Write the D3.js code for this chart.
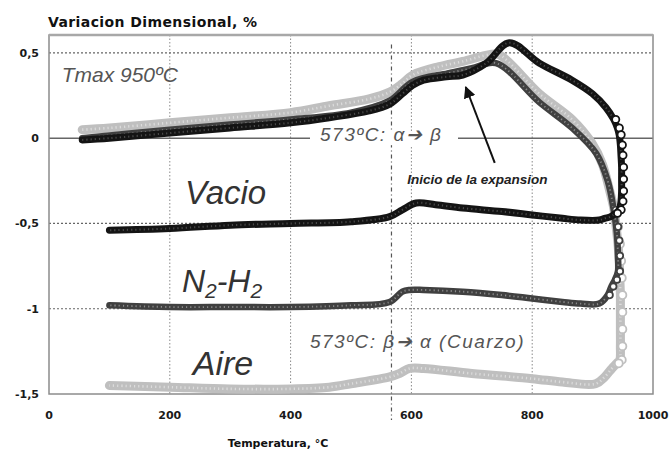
<!DOCTYPE html>
<html>
<head>
<meta charset="utf-8">
<script src="https://cdn.jsdelivr.net/npm/d3@7"></script>
<style>
  html, body { margin: 0; padding: 0; background: #fff; }
  svg { display: block; }
  .tick-label { font-family: "DejaVu Sans", sans-serif; font-weight: bold; font-size: 11px; fill: #1a1a1a; }
  .axis-title { font-family: "DejaVu Sans", sans-serif; font-weight: bold; fill: #111; }
  .note { font-family: "Liberation Sans", Arial, sans-serif; font-style: italic; }
</style>
</head>
<body>
<div id="chart"></div>
<script>
// Dilatometry curves (Temperatura °C, Variacion %), heating then cooling
const vacio = [
  [55, -0.01], [100, 0.0], [200, 0.03], [300, 0.06], [400, 0.09], [464, 0.12],
  [530, 0.16], [564, 0.2], [585, 0.26], [602, 0.31], [620, 0.34], [658, 0.36],
  [685, 0.37], [724, 0.44], [762, 0.56], [812, 0.44], [866, 0.34], [900, 0.26],
  [922, 0.18], [935, 0.11], [941, 0.06], [944, 0.02], [946, -0.04], [947, -0.1],
  [948, -0.17], [948, -0.24], [948, -0.31], [947, -0.37], [944, -0.42], [938, -0.44],
  [930, -0.46], [920, -0.47], [911, -0.48], [880, -0.48], [850, -0.47],
  [800, -0.45], [750, -0.43], [685, -0.41], [640, -0.39], [608, -0.38], [585, -0.42],
  [564, -0.46], [500, -0.49], [400, -0.5], [300, -0.51], [200, -0.53], [100, -0.54]
];

const n2h2 = [
  [55, 0.0], [200, 0.05], [300, 0.08], [400, 0.11], [500, 0.15], [564, 0.22],
  [602, 0.33], [660, 0.38], [700, 0.41], [740, 0.44], [812, 0.21], [866, 0.06],
  [906, -0.09], [925, -0.25], [935, -0.42], [939, -0.52], [941, -0.6], [942, -0.69],
  [942, -0.78], [937, -0.83], [931, -0.87], [925, -0.92], [911, -0.97], [880, -0.97],
  [850, -0.96], [800, -0.94], [750, -0.92], [685, -0.9], [620, -0.89], [597, -0.89],
  [585, -0.9], [564, -0.96], [500, -0.98], [400, -0.99], [300, -0.99], [200, -0.99],
  [100, -0.98]
];

const aire = [
  [55, 0.05], [100, 0.06], [200, 0.09], [300, 0.12], [400, 0.15], [464, 0.19],
  [530, 0.23], [564, 0.27], [585, 0.32], [602, 0.37], [646, 0.42], [685, 0.45],
  [729, 0.49], [745, 0.49], [812, 0.26], [866, 0.11], [899, -0.03], [916, -0.15],
  [927, -0.29], [935, -0.41], [939, -0.52], [942, -0.62], [944, -0.72], [945, -0.82],
  [946, -0.92], [946, -1.02], [946, -1.12], [946, -1.22], [945, -1.3], [940, -1.32],
  [932, -1.35], [920, -1.4], [905, -1.44], [850, -1.43], [800, -1.41], [700, -1.38],
  [620, -1.35], [597, -1.35], [580, -1.38], [564, -1.4], [500, -1.44], [464, -1.46],
  [400, -1.47], [300, -1.47], [200, -1.46], [100, -1.45]
];

const xTicks = [0, 200, 400, 600, 800, 1000];
const yTicks = [0.5, 0, -0.5, -1, -1.5];
const yTickLabels = ["0,5", "0", "-0,5", "-1", "-1,5"];
const gridX = [200, 400, 600, 800];
const gridY = [0.5, -0.5, -1];
const transitionT = 567;

const width = 672, height = 455;
const margin = { top: 35, right: 19, bottom: 61, left: 49 };

const svg = d3.select("#chart").append("svg")
  .attr("width", width).attr("height", height);

const x = d3.scaleLinear().domain([0, 1000]).range([margin.left, width - margin.right]);
const y = d3.scaleLinear().domain([-1.5, 0.605]).range([height - margin.bottom, margin.top]);

const x0 = x.range()[0], x1 = x.range()[1];
const yTop = y.range()[1], yBot = y.range()[0];

// ---------- grid ----------
svg.append("g").selectAll("line").data(gridX).join("line")
  .attr("x1", d => x(d)).attr("x2", d => x(d))
  .attr("y1", yTop).attr("y2", yBot)
  .attr("stroke", "#8a8a8a").attr("stroke-width", 1)
  .attr("stroke-dasharray", "1.5 2");

svg.append("g").selectAll("line").data(gridY).join("line")
  .attr("x1", x0).attr("x2", x1)
  .attr("y1", d => y(d)).attr("y2", d => y(d))
  .attr("stroke", "#666").attr("stroke-width", 1.2)
  .attr("stroke-dasharray", "2 2");

// zero line
svg.append("line")
  .attr("x1", x0).attr("x2", x1)
  .attr("y1", y(0)).attr("y2", y(0))
  .attr("stroke", "#666").attr("stroke-width", 1.4);

// frame
svg.append("rect")
  .attr("x", x0).attr("y", yTop)
  .attr("width", x1 - x0).attr("height", yBot - yTop)
  .attr("fill", "none").attr("stroke", "#8c8c8c").attr("stroke-width", 1.5);
svg.append("line")
  .attr("x1", x0).attr("x2", x1).attr("y1", yTop).attr("y2", yTop)
  .attr("stroke", "#a8a8a8").attr("stroke-width", 2.5);

// quartz transition line (dash-dot)
svg.append("line")
  .attr("x1", x(transitionT)).attr("x2", x(transitionT))
  .attr("y1", y(0.55)).attr("y2", yBot + 26)
  .attr("stroke", "#555").attr("stroke-width", 1.2)
  .attr("stroke-dasharray", "4 3 1 3");

// white gap in the zero line behind the label
svg.append("rect")
  .attr("x", 310).attr("y", y(0) - 7)
  .attr("width", 148).attr("height", 14)
  .attr("fill", "#fff");

// ---------- series ----------
const line = d3.line()
  .x(d => x(d[0])).y(d => y(d[1]))
  .curve(d3.curveCatmullRom.alpha(0.5));

const seriesList = [
  { data: aire, color: "#bfbfbf", inner: "#dcdcdc", w: 9, r: 4 },
  { data: n2h2, color: "#404040", inner: "#8a8a8a", w: 6.5, r: 3.2 },
  { data: vacio, color: "#141414", inner: "#4a4a4a", w: 7, r: 3.6 }
];

// markers are visible only where the curve runs steeply (isothermal hold)
function isSteep(d, i, arr) {
  const prev = arr[i - 1], next = arr[i + 1];
  const near = p => p && Math.abs(p[0] - d[0]) < 7;
  return near(prev) || near(next);
}

seriesList.forEach(s => {
  const g = svg.append("g");
  g.append("path")
    .attr("d", line(s.data))
    .attr("fill", "none")
    .attr("stroke", s.color)
    .attr("stroke-width", s.w)
    .attr("stroke-linejoin", "round")
    .attr("stroke-linecap", "round");
  g.append("path")
    .attr("d", line(s.data))
    .attr("fill", "none")
    .attr("stroke", s.inner)
    .attr("stroke-width", s.w / 3.5)
    .attr("stroke-dasharray", "1.2 3");
  g.selectAll("circle").data(s.data.filter(isSteep)).join("circle")
    .attr("cx", d => x(d[0]) + 2).attr("cy", d => y(d[1]))
    .attr("r", s.r)
    .attr("fill", "#fff")
    .attr("stroke", s.color)
    .attr("stroke-width", 1.8);
});

// ---------- axes labels ----------
svg.append("g").selectAll("text").data(yTicks).join("text")
  .attr("class", "tick-label")
  .attr("x", 39).attr("y", d => y(d) + 4)
  .attr("text-anchor", "end")
  .text((d, i) => yTickLabels[i]);

svg.append("g").selectAll("text").data(xTicks).join("text")
  .attr("class", "tick-label")
  .attr("x", d => x(d)).attr("y", yBot + 25)
  .attr("text-anchor", "middle")
  .text(d => d);

svg.append("text")
  .attr("class", "axis-title")
  .attr("x", 278).attr("y", 447)
  .attr("text-anchor", "middle")
  .attr("font-size", 11)
  .text("Temperatura, °C");

svg.append("text")
  .attr("class", "axis-title")
  .attr("x", 48).attr("y", 27)
  .attr("font-size", 14)
  .attr("letter-spacing", 0.4)
  .text("Variacion Dimensional, %");

// ---------- annotations ----------
svg.append("text").attr("class", "note")
  .attr("x", x(21)).attr("y", y(0.33))
  .attr("font-size", 21).attr("fill", "#555")
  .text("Tmax 950ºC");

svg.append("text").attr("class", "note")
  .attr("x", 320).attr("y", y(0) + 3)
  .attr("font-size", 19).attr("letter-spacing", 1.5).attr("fill", "#555")
  .text("573ºC: α➔ β");

svg.append("text").attr("class", "note")
  .attr("x", x(225)).attr("y", y(-0.386))
  .attr("font-size", 33).attr("fill", "#333")
  .text("Vacio");

const n2 = svg.append("text").attr("class", "note")
  .attr("x", x(220)).attr("y", y(-0.9))
  .attr("font-size", 32).attr("fill", "#333");
n2.append("tspan").text("N");
n2.append("tspan").attr("font-size", 21).attr("dy", 6).text("2");
n2.append("tspan").attr("dy", -6).text("-H");
n2.append("tspan").attr("font-size", 21).attr("dy", 6).text("2");

svg.append("text").attr("class", "note")
  .attr("x", x(238)).attr("y", y(-1.39))
  .attr("font-size", 34).attr("fill", "#333")
  .text("Aire");

svg.append("text").attr("class", "note")
  .attr("x", x(432)).attr("y", y(-1.23))
  .attr("font-size", 19).attr("letter-spacing", 1.5).attr("fill", "#555")
  .text("573ºC: β➔ α (Cuarzo)");

svg.append("text").attr("class", "note")
  .attr("x", x(593)).attr("y", y(-0.27))
  .attr("font-size", 13.5).attr("font-weight", "bold").attr("fill", "#222")
  .text("Inicio de la expansion");

// arrow to the start of expansion
svg.append("defs").append("marker")
  .attr("id", "head").attr("viewBox", "0 0 10 10")
  .attr("refX", 9).attr("refY", 5)
  .attr("markerWidth", 6).attr("markerHeight", 6)
  .attr("orient", "auto")
  .append("path").attr("d", "M0,0 L10,5 L0,10 z").attr("fill", "#111");

svg.append("line")
  .attr("x1", x(738)).attr("y1", y(-0.145))
  .attr("x2", x(690)).attr("y2", y(0.3))
  .attr("stroke", "#111").attr("stroke-width", 2)
  .attr("marker-end", "url(#head)");
</script>
</body>
</html>
